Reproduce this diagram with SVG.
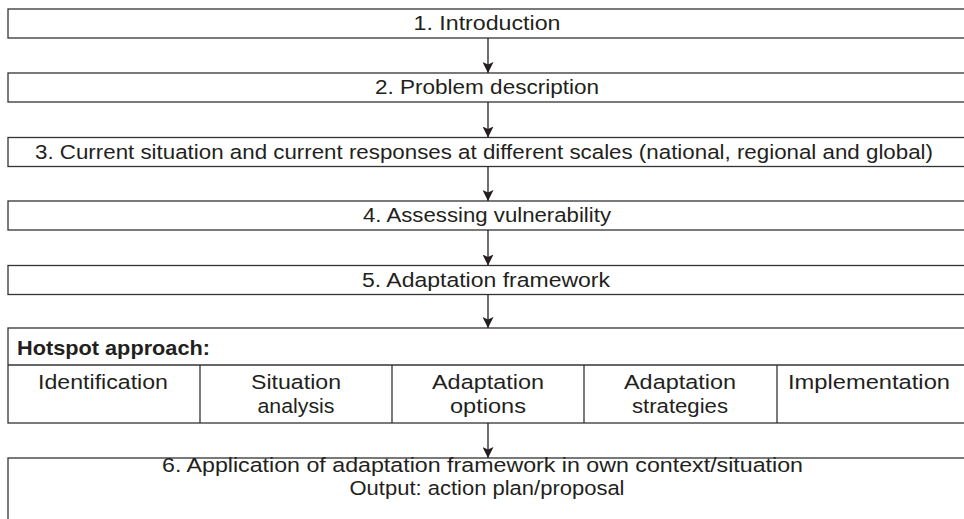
<svg xmlns="http://www.w3.org/2000/svg" width="964" height="519" viewBox="0 0 964 519">
  <defs>
    <style>
      .box { fill: #ffffff; stroke: #333333; stroke-width: 1.3; }
      .rule { fill: none; stroke: #333333; stroke-width: 1.3; }
      .lbl { font-family: "Liberation Sans", Arial, sans-serif; font-size: 20.5px; fill: #231f20; text-anchor: middle; }
      .head { font-family: "Liberation Sans", Arial, sans-serif; font-size: 20.5px; font-weight: bold; fill: #231f20; }
      .link { fill: none; stroke: #231f20; stroke-width: 1.3; marker-end: url(#arrow); }
    </style>
    <marker id="arrow" markerWidth="12" markerHeight="11" refX="11" refY="5.5" orient="auto" markerUnits="userSpaceOnUse">
      <path d="M0,0 L11,5.5 L0,11 L2.5,5.5 Z" fill="#231f20"/>
    </marker>
  </defs>

  <rect width="964" height="519" fill="#ffffff"/>

  <g id="step1">
    <rect class="box" x="8" y="9" width="962" height="29"/>
    <text class="lbl" x="487" y="30" textLength="147" lengthAdjust="spacingAndGlyphs">1. Introduction</text>
  </g>

  <g id="step2">
    <rect class="box" x="8" y="73" width="962" height="29"/>
    <text class="lbl" x="487" y="94" textLength="224" lengthAdjust="spacingAndGlyphs">2. Problem description</text>
  </g>

  <g id="step3">
    <rect class="box" x="8" y="137.5" width="962" height="29"/>
    <text class="lbl" x="484" y="158.5" textLength="898" lengthAdjust="spacingAndGlyphs">3. Current situation and current responses at different scales (national, regional and global)</text>
  </g>

  <g id="step4">
    <rect class="box" x="8" y="201" width="962" height="29"/>
    <text class="lbl" x="487" y="222" textLength="248" lengthAdjust="spacingAndGlyphs">4. Assessing vulnerability</text>
  </g>

  <g id="step5">
    <rect class="box" x="8" y="265.5" width="962" height="29"/>
    <text class="lbl" x="486" y="286.5" textLength="248" lengthAdjust="spacingAndGlyphs">5. Adaptation framework</text>
  </g>

  <g id="hotspot">
    <rect class="box" x="8" y="328" width="962" height="95"/>
    <line class="rule" x1="8" y1="365" x2="970" y2="365"/>
    <line class="rule" x1="200" y1="365" x2="200" y2="423"/>
    <line class="rule" x1="392" y1="365" x2="392" y2="423"/>
    <line class="rule" x1="584" y1="365" x2="584" y2="423"/>
    <line class="rule" x1="777" y1="365" x2="777" y2="423"/>
    <text class="head" x="17" y="355" textLength="193" lengthAdjust="spacingAndGlyphs">Hotspot approach:</text>
    <text class="lbl" x="103" y="388.5" textLength="130" lengthAdjust="spacingAndGlyphs">Identification</text>
    <text class="lbl" x="296" y="388.5" textLength="90" lengthAdjust="spacingAndGlyphs">Situation</text>
    <text class="lbl" x="296" y="413" textLength="77" lengthAdjust="spacingAndGlyphs">analysis</text>
    <text class="lbl" x="488" y="388.5" textLength="112" lengthAdjust="spacingAndGlyphs">Adaptation</text>
    <text class="lbl" x="488" y="413" textLength="76" lengthAdjust="spacingAndGlyphs">options</text>
    <text class="lbl" x="680" y="388.5" textLength="112" lengthAdjust="spacingAndGlyphs">Adaptation</text>
    <text class="lbl" x="680" y="413" textLength="96" lengthAdjust="spacingAndGlyphs">strategies</text>
    <text class="lbl" x="869" y="388.5" textLength="162" lengthAdjust="spacingAndGlyphs">Implementation</text>
  </g>

  <g id="step6">
    <rect class="box" x="8" y="458" width="962" height="70"/>
    <text class="lbl" x="482.5" y="471.5" textLength="641" lengthAdjust="spacingAndGlyphs">6. Application of adaptation framework in own context/situation</text>
    <text class="lbl" x="487" y="494.5" textLength="275" lengthAdjust="spacingAndGlyphs">Output: action plan/proposal</text>
  </g>

  <g id="connectors">
    <line class="link" x1="488" y1="38" x2="488" y2="73"/>
    <line class="link" x1="488" y1="102" x2="488" y2="137.5"/>
    <line class="link" x1="488" y1="166.5" x2="488" y2="201"/>
    <line class="link" x1="488" y1="230" x2="488" y2="265.5"/>
    <line class="link" x1="488" y1="294.5" x2="488" y2="328"/>
    <line class="link" x1="488" y1="423" x2="488" y2="458"/>
  </g>
</svg>
